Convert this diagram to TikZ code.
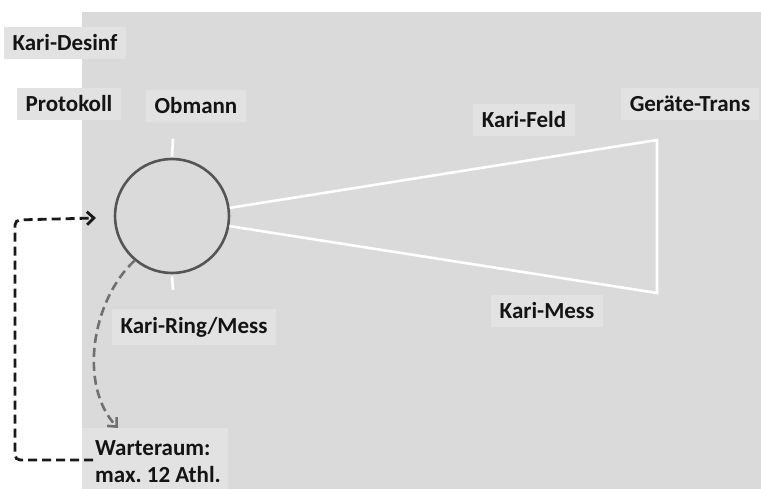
\documentclass[tikz,border=0pt]{standalone}
\usepackage{fontspec}
\setmainfont{Carlito}
\usetikzlibrary{arrows.meta}
\definecolor{bggray}{HTML}{DADADA}
\definecolor{lblgray}{HTML}{E2E2E2}
\definecolor{ringgray}{HTML}{555555}
\definecolor{flowgray}{HTML}{707070}
\frenchspacing
\begin{document}
\begin{tikzpicture}[x=1pt,y=-1pt,
  lblfont/.style={font=\bfseries\fontsize{23}{27}\selectfont,text=black!92},
  lbl/.style={lblfont,fill=lblgray,inner xsep=9pt,inner ysep=8pt},
  wline/.style={white,line width=2.6pt},
  ring/.style={circle,draw=ringgray,line width=2.6pt,minimum size=114pt,inner sep=0pt},
  blackflow/.style={black!90,line width=2.8pt,dash pattern=on 9pt off 5pt,rounded corners=5pt,
    -{Straight Barb[length=7pt,width=13pt,line width=2.8pt]}},
  grayflow/.style={flowgray,line width=2.6pt,dash pattern=on 9pt off 5pt,
    -{Straight Barb[length=7pt,width=13pt,line width=2.6pt]}}]
\useasboundingbox (0,0) rectangle (761,489);
\fill[white] (0,0) rectangle (761,489);
\fill[bggray] (82,12) rectangle (761,489);

% labels
\node[lbl] (desinf) at (65,43) {Kari-Desinf};
\node[lbl] (prot) at (69,104) {Protokoll};
\node[lbl] (obm) at (196,106) {Obmann};
\node[lbl] (feld) at (524,120) {Kari-Feld};
\node[lbl] (trans) at (690,104) {Geräte-Trans};
\node[lbl] (mess) at (547,311) {Kari-Mess};
\node[lbl] (ring) at (194,327) {Kari-Ring/Mess};
\fill[lblgray] (82,428) rectangle (228,489);
\node[lblfont,align=left,anchor=west,inner sep=0pt]
  (wait) at (95,462) {Warteraum:\\max. 12 Athl.};

% ring and field lines
\node[ring] (circ) at (172,216) {};
\coordinate (tr) at (657,140);
\coordinate (br) at (657,293);
\draw[wline] (circ.north) ++(0,-1) -- (173,139);
\draw[wline] (circ.south) ++(0,2) -- (173,290);
\draw[wline,line join=miter] (circ.8) -- (tr) -- (br) -- (circ.-10);

% flows
\coordinate (wl) at (93,460);
\coordinate (tip) at (96,218);
\draw[blackflow] (wl) -- (15,460) -- (15,220) -- (tip);
\coordinate (gt) at (118,428);
\draw[grayflow] (circ.-130) .. controls (92,300) and (78,385) .. (gt);
\end{tikzpicture}
\end{document}
